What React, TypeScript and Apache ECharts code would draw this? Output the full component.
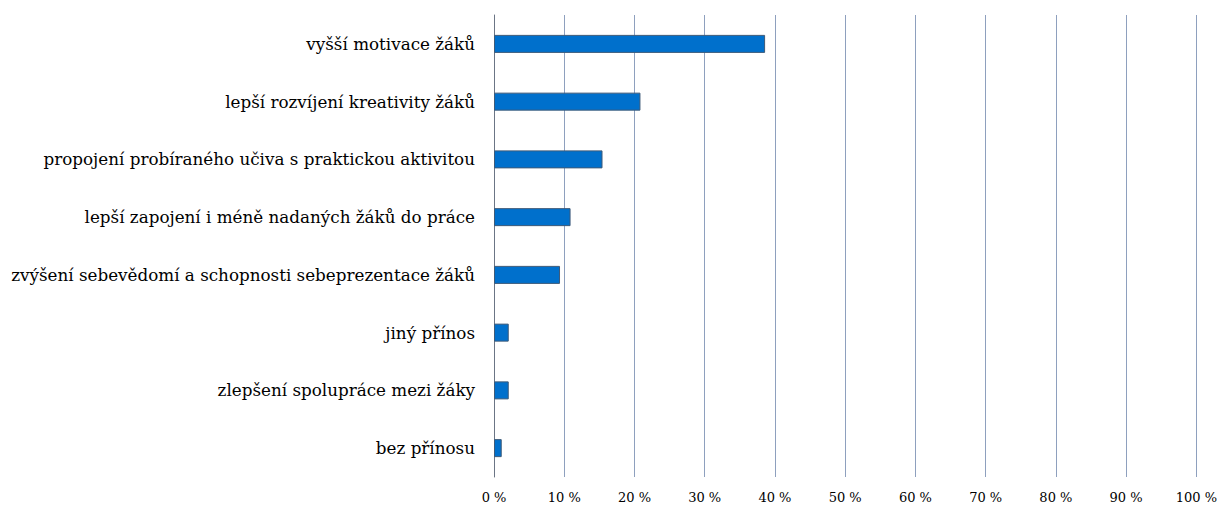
import React, { useEffect, useRef } from "react";
import * as echarts from "echarts";

const categories = [
  "vyšší motivace žáků",
  "lepší rozvíjení kreativity žáků",
  "propojení probíraného učiva s praktickou aktivitou",
  "lepší zapojení i méně nadaných žáků do práce",
  "zvýšení sebevědomí a schopnosti sebeprezentace žáků",
  "jiný přínos",
  "zlepšení spolupráce mezi žáky",
  "bez přínosu",
];
const values = [38.6, 20.85, 15.45, 10.9, 9.4, 2.1, 2.1, 1.1];

const FONT = "DejaVu Serif";

export default function App() {
  const ref = useRef<HTMLDivElement>(null);
  useEffect(() => {
    const chart = echarts.init(ref.current!, null, { renderer: "svg" });
    chart.setOption({
      animation: false,
      grid: { left: 494, right: 23, top: 15, bottom: 29 },
      xAxis: {
        type: "value",
        min: 0,
        max: 100,
        interval: 10,
        axisLine: { show: false },
        axisTick: { show: false },
        splitLine: { show: true, lineStyle: { color: "#8EA0BE", width: 1 } },
        axisLabel: {
          formatter: (v: number) => `${v} %`,
          fontFamily: FONT,
          fontSize: 13,
          color: "#000",
          margin: 14,
        },
      },
      yAxis: {
        type: "category",
        inverse: true,
        data: categories,
        axisLine: { show: true, lineStyle: { color: "#6B7585", width: 1 } },
        axisTick: { show: false },
        axisLabel: {
          fontFamily: FONT,
          fontSize: 16.75,
          color: "#000",
          margin: 19,
        },
      },
      series: [
        {
          type: "bar",
          data: values,
          barWidth: 18,
          itemStyle: { color: "#0070CC", borderColor: "#3E5A78", borderWidth: 1 },
        },
      ],
    });
    return () => chart.dispose();
  }, []);
  return <div ref={ref} style={{ width: 1220, height: 506, position: "absolute", left: 0, top: 0 }} />;
}
